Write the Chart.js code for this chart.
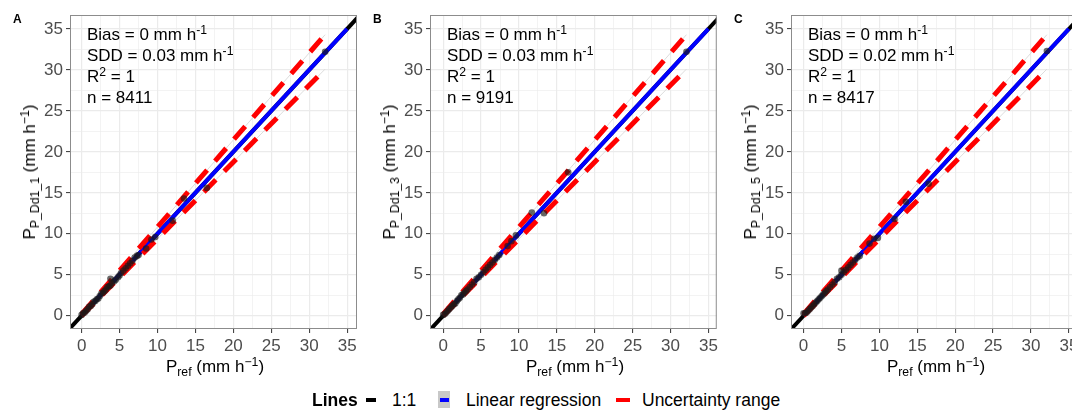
<!DOCTYPE html>
<html>
<head>
<meta charset="utf-8">
<script src="https://cdn.jsdelivr.net/npm/chart.js@4.4.1/dist/chart.umd.min.js"></script>
<style>
  html, body { margin: 0; padding: 0; background: #fff; }
  body { width: 1072px; height: 411px; position: relative; overflow: hidden;
         font-family: "Liberation Sans", Arial, sans-serif; color: #000; }
  .panel { position: absolute; top: 0; width: 361px; height: 380px; }
  .panel canvas { position: absolute; left: 0; top: 0; }
  .tag { position: absolute; left: 13px; top: 12px; font-weight: bold; font-size: 12px; }
  .note { position: absolute; left: 87px; top: 24px; font-size: 17px; }
  .note div { height: 21px; line-height: 21px; white-space: nowrap; }
  .xt { position: absolute; top: 357px; font-size: 17px; color: #000; white-space: nowrap; transform: translateX(-50%); }
  .yt { position: absolute; left: 30px; top: 172px; font-size: 17px; white-space: nowrap;
        transform: translate(-50%, -50%) rotate(-90deg); }
  .sub { font-size: 0.72em; vertical-align: -0.3em; line-height: 0; }
  .sup { font-size: 0.72em; vertical-align: 0.5em; line-height: 0; }
  .leg { position: absolute; top: 391px; font-size: 17.5px; line-height: 18px; white-space: nowrap; }
  .key { position: absolute; height: 4px; }
</style>
</head>
<body>

<script>
// ---- data ----
const xTicks = [0, 2.5, 5, 7.5, 10, 12.5, 15, 17.5, 20, 22.5, 25, 27.5, 30, 32.5, 35];
const yTicks = [0, 2.5, 5, 7.5, 10, 12.5, 15, 17.5, 20, 22.5, 25, 27.5, 30, 32.5, 35];

const oneX = [-5, 40];
const oneY = [-5, 40];
const regX = [0, 35];
const regY = [0, 35];
const upperX = [0, 32.1];
const upperY = [0.2, 34.3];
const lowerX = [0, 32.1];
const lowerY = [0, 30.1];

const ptsAX = [0.0, 0.2, 0.4, 0.6, 0.8, 1.0, 1.2, 1.4, 1.6, 1.8, 2.0, 2.2, 2.4, 2.6, 2.8, 3.0, 3.2, 3.4, 3.6, 3.8, 3.8, 4.0, 4.3, 4.5, 4.8, 5.0, 5.2, 5.5, 5.8, 6.1, 6.4, 6.7, 7.0, 7.3, 7.5, 8.5, 9.2, 9.7, 12.0, 13.5, 16.5, 32.1];
const ptsAY = [0.1, 0.3, 0.4, 0.6, 0.8, 1.1, 1.2, 1.4, 1.7, 1.8, 2.0, 2.1, 2.4, 2.7, 2.8, 3.0, 3.2, 3.5, 3.6, 3.7, 4.5, 4.0, 4.2, 4.4, 4.7, 4.9, 5.2, 5.5, 5.8, 6.1, 6.4, 6.7, 7.1, 7.3, 7.4, 8.2, 9.3, 9.6, 11.6, 14.3, 15.6, 32.2];
const ptsBX = [0.0, 0.2, 0.4, 0.6, 0.8, 1.0, 1.2, 1.4, 1.6, 1.8, 2.0, 2.2, 2.4, 2.6, 2.8, 3.0, 3.2, 3.5, 3.8, 4.1, 4.4, 4.7, 5.0, 5.3, 5.6, 5.9, 6.2, 6.5, 6.8, 7.1, 7.4, 8.5, 9.0, 9.6, 11.7, 13.3, 16.5, 32.1];
const ptsBY = [0.1, 0.2, 0.4, 0.6, 0.8, 1.0, 1.2, 1.4, 1.5, 1.8, 2.0, 2.2, 2.5, 2.6, 2.8, 3.0, 3.2, 3.5, 3.8, 4.1, 4.5, 4.7, 5.0, 5.3, 5.6, 5.9, 6.2, 6.5, 6.8, 7.1, 7.4, 8.5, 9.1, 9.8, 12.6, 12.5, 17.5, 32.2];
const ptsCX = [0.0, 0.2, 0.4, 0.6, 0.8, 1.0, 1.2, 1.4, 1.6, 1.8, 2.0, 2.2, 2.4, 2.6, 2.8, 3.0, 3.2, 3.5, 3.8, 4.1, 4.4, 4.7, 5.0, 5.0, 5.3, 5.6, 5.9, 6.2, 6.5, 6.8, 7.1, 7.4, 8.7, 9.3, 9.8, 12.0, 13.5, 16.5, 32.1];
const ptsCY = [0.3, 0.3, 0.4, 0.6, 0.8, 1.0, 1.2, 1.4, 1.6, 1.8, 2.0, 2.2, 2.4, 2.6, 2.8, 3.0, 3.2, 3.5, 3.8, 4.1, 4.5, 4.7, 5.0, 5.5, 5.3, 5.6, 5.9, 6.2, 6.5, 6.8, 7.1, 7.3, 8.8, 9.4, 9.5, 11.8, 13.9, 16.1, 32.3];

const panels = [
    { id: 'A', left: 0,   xMin: -1.53, xMax: 36.3, sub: 'P_Dd1_1', bias: 0, sdd: '0.03', n: 8411, px: ptsAX, py: ptsAY },
    { id: 'B', left: 360, xMin: -1.74, xMax: 36.1, sub: 'P_Dd1_3', bias: 0, sdd: '0.03', n: 9191, px: ptsBX, py: ptsBY },
    { id: 'C', left: 721, xMin: -1.66, xMax: 36.2, sub: 'P_Dd1_5', bias: 0, sdd: '0.02', n: 8417, px: ptsCX, py: ptsCY },
];
const yMin = -1.62, yMax = 36.7;

const FONT = '"Liberation Sans", Arial, sans-serif';

function pairs(xs, ys) { return xs.map((x, i) => ({ x, y: ys[i] })); }

const frame = {
    id: 'frame',
    afterDatasetsDraw(chart) {
        const a = chart.chartArea, c = chart.ctx;
        c.save();
        c.strokeStyle = '#8c8c8c';
        c.lineWidth = 1;
        c.strokeRect(a.left + 0.5, a.top + 0.5, a.right - a.left - 1, a.bottom - a.top - 1);
        c.restore();
    }
};

function axis(min, max, ticks, isX) {
    const major = v => Math.abs(v % 5) < 1e-9;
    return {
        type: 'linear', min, max,
        afterBuildTicks: s => { s.ticks = ticks.map(v => ({ value: v })); },
        afterFit: s => { if (isX) s.height = 51; else s.width = 70; },
        border: { display: false },
        grid: {
            color: '#ebebeb',
            lineWidth: c => (c.tick && major(c.tick.value)) ? 1.2 : 0.6,
            drawTicks: true, tickLength: 4,
            tickColor: c => (c.tick && major(c.tick.value)) ? '#333' : 'rgba(0,0,0,0)',
            tickWidth: 1
        },
        ticks: {
            autoSkip: false, maxRotation: 0, padding: 3,
            color: '#4d4d4d', font: { size: 17, family: FONT },
            callback: v => major(v) ? String(v) : ''
        }
    };
}

function renderPanel(p) {
    const box = document.createElement('div');
    box.className = 'panel';
    box.style.left = p.left + 'px';
    box.innerHTML = `
      <canvas width="361" height="380"></canvas>
      <div class="tag">${p.id}</div>
      <div class="note">
        <div>Bias = ${p.bias} mm h<span class="sup">-1</span></div>
        <div>SDD = ${p.sdd} mm h<span class="sup">-1</span></div>
        <div>R<span class="sup">2</span> = 1</div>
        <div>n = ${p.n}</div>
      </div>
      <div class="xt" style="left:215px">P<span class="sub">ref</span> (mm h<span class="sup">−1</span>)</div>
      <div class="yt">P<span class="sub">${p.sub}</span> (mm h<span class="sup">−1</span>)</div>`;
    document.body.appendChild(box);

    const line = (label, xs, ys, color, width, dash) => ({
        label, type: 'scatter', data: pairs(xs, ys), showLine: true,
        borderColor: color, borderWidth: width, borderDash: dash || [], borderCapStyle: 'butt',
        pointRadius: 0, clip: 0
    });

    new Chart(box.querySelector('canvas'), {
        type: 'scatter',
        data: {
            datasets: [
                { label: 'points', data: pairs(p.px, p.py), pointRadius: 3.3, borderWidth: 0,
                  backgroundColor: 'rgba(25,25,25,0.65)', clip: 0 },
                line('upper', upperX, upperY, '#ff0000', 5, [17, 12]),
                line('lower', lowerX, lowerY, '#ff0000', 5, [17, 12]),
                line('regression', regX, regY, '#0000ff', 4),
                line('1:1', oneX, oneY, '#000000', 4),
                line('upperRibbon', upperX, upperY, '#dcdcdc', 1),
                line('lowerRibbon', lowerX, lowerY, '#dcdcdc', 1),
            ]
        },
        options: {
            responsive: false, animation: false, devicePixelRatio: 1,
            layout: { padding: { top: 15, right: 1, bottom: 0, left: 0 } },
            plugins: { legend: { display: false }, tooltip: { enabled: false } },
            scales: {
                x: axis(p.xMin, p.xMax, xTicks, true),
                y: axis(yMin, yMax, yTicks, false)
            }
        },
        plugins: [frame]
    });
}

panels.forEach(renderPanel);

// legend
const legend = document.createElement('div');
legend.innerHTML = `
  <div class="leg" style="left:312px;font-weight:bold">Lines</div>
  <div class="key" style="left:366px;top:398px;width:10px;background:#000"></div>
  <div class="leg" style="left:392px">1:1</div>
  <div style="position:absolute;left:438px;top:391px;width:12px;height:17px;background:#c8c8c8"></div>
  <div class="key" style="left:440px;top:398px;width:9px;background:#0000ff"></div>
  <div class="leg" style="left:466px">Linear regression</div>
  <div class="key" style="left:616px;top:398px;width:14px;background:#ff0000"></div>
  <div class="leg" style="left:642px">Uncertainty range</div>`;
document.body.appendChild(legend);
</script>
</body>
</html>
